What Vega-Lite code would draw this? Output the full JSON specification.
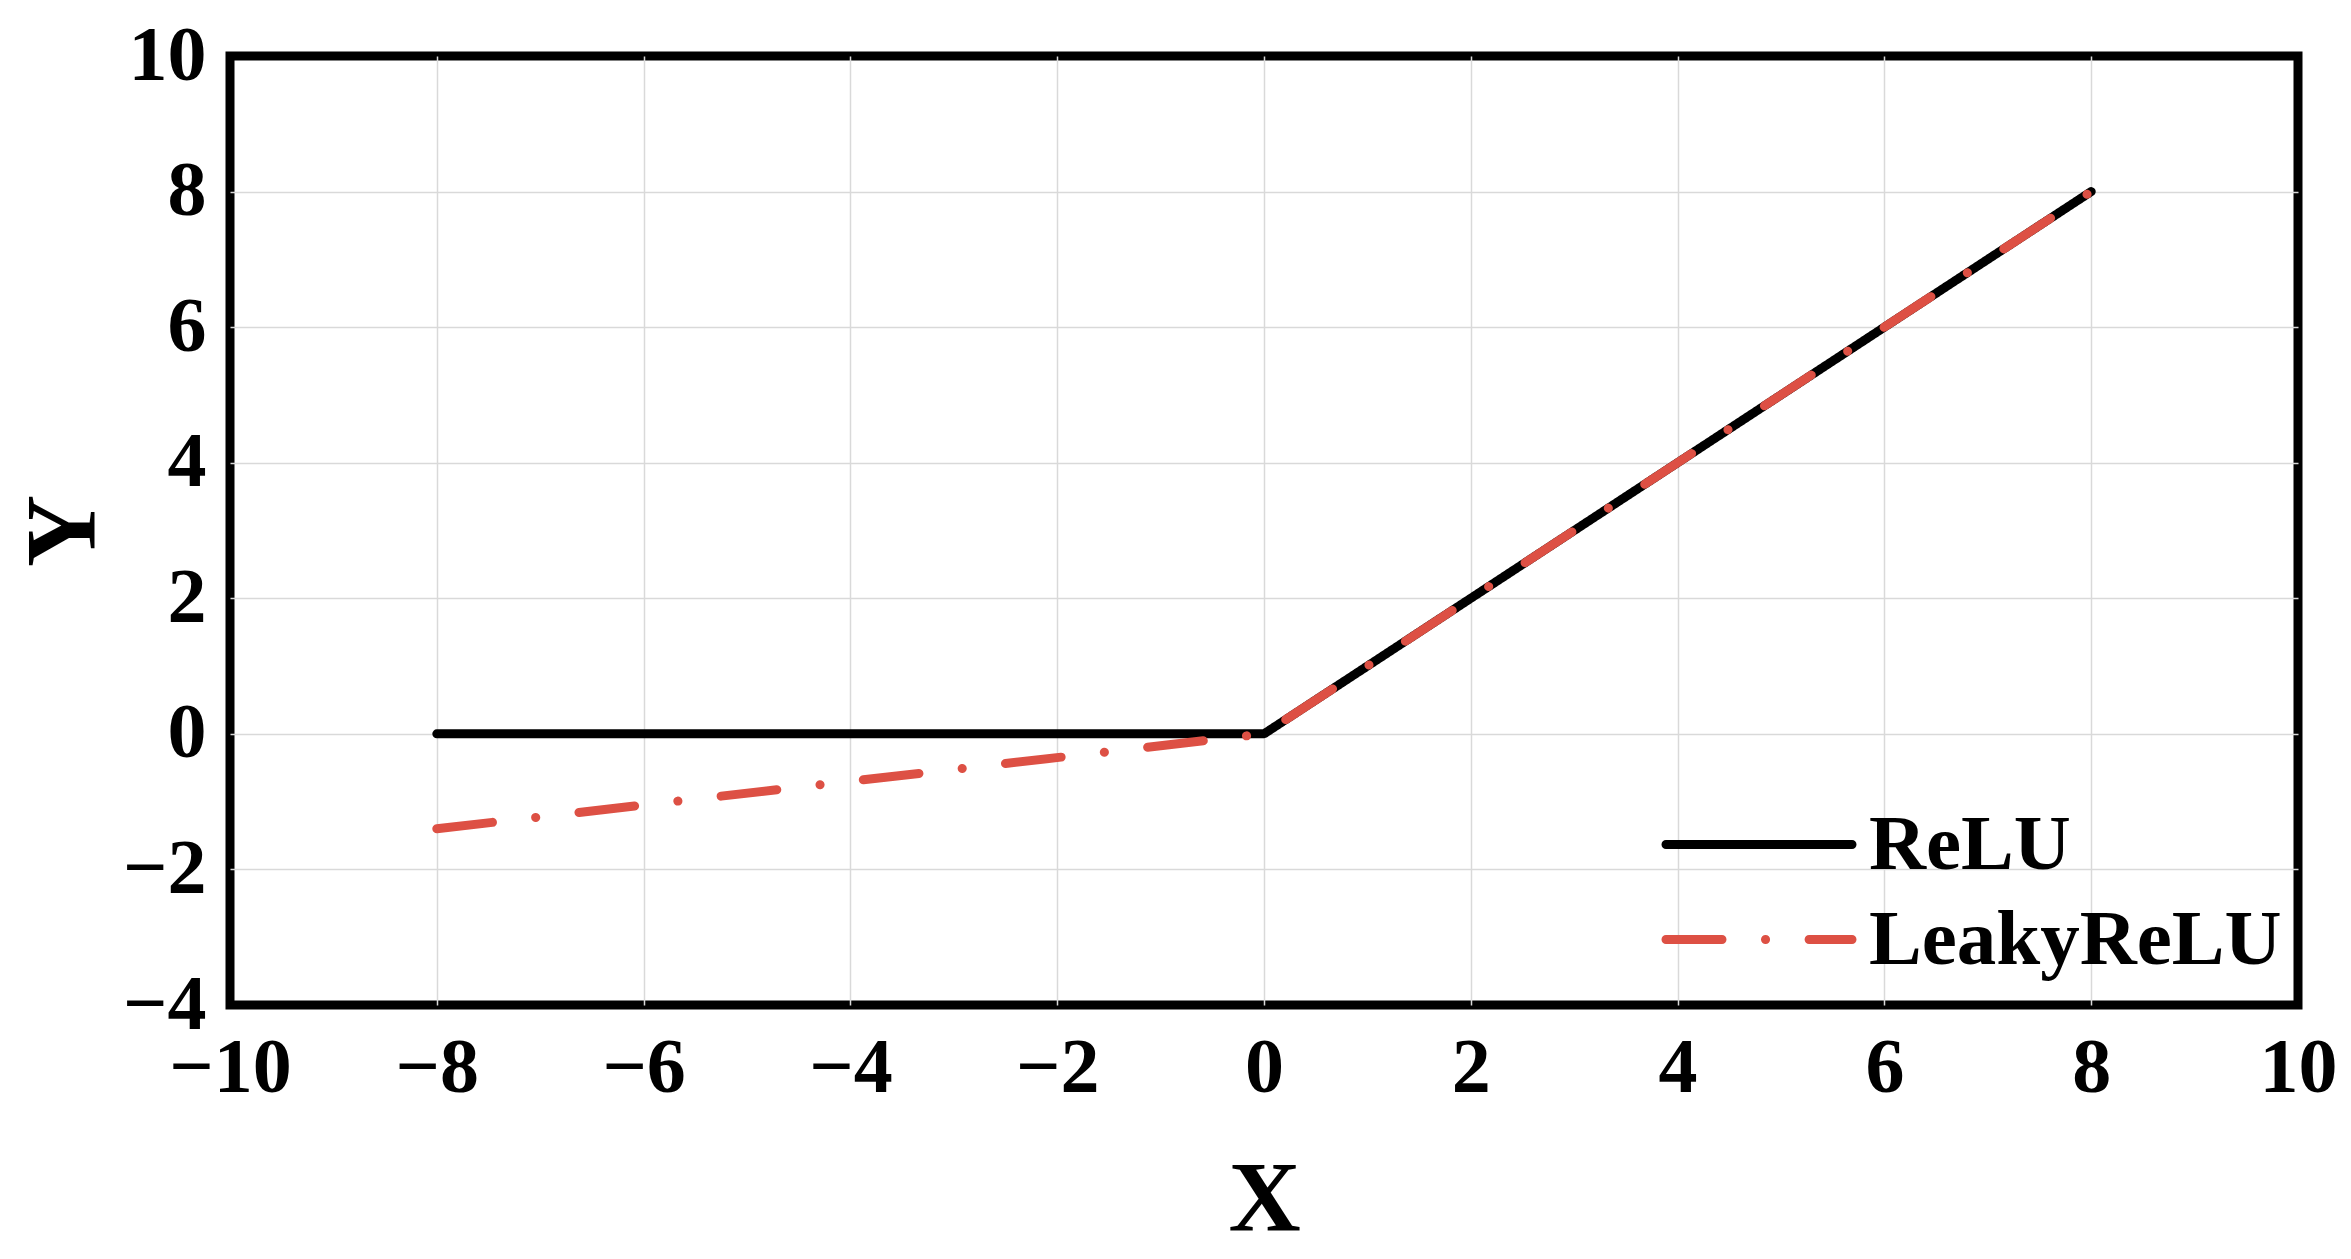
{
  "$schema": "https://vega.github.io/schema/vega-lite/v6.json",
  "width": 2068,
  "height": 949,
  "autosize": {"type": "none"},
  "padding": {"left": 230, "top": 56, "right": 53, "bottom": 254},
  "background": "white",
  "config": {
    "font": "Liberation Serif",
    "view": {"stroke": "black", "strokeWidth": 9},
    "axis": {
      "grid": true,
      "gridColor": "#d9d9d9",
      "gridWidth": 1.5,
      "domain": false,
      "ticks": false,
      "labelFont": "Liberation Serif",
      "labelFontSize": 78,
      "labelFontWeight": "bold",
      "labelColor": "black",
      "labelFlush": false,
      "labelOverlap": false,
      "titleFont": "Liberation Serif",
      "titleFontSize": 100,
      "titleFontWeight": "bold",
      "titleColor": "black"
    }
  },
  "encoding": {
    "x": {
      "field": "x",
      "type": "quantitative",
      "scale": {"domain": [-10, 10], "nice": false},
      "axis": {
        "title": "X",
        "values": [-10, -8, -6, -4, -2, 0, 2, 4, 6, 8, 10],
        "labelPadding": 24,
        "titlePadding": 43,
        "gridOpacity": {"condition": {"test": "abs(datum.value) == 10", "value": 0}, "value": 1}
      }
    },
    "y": {
      "field": "y",
      "type": "quantitative",
      "scale": {"domain": [-4, 10], "nice": false},
      "axis": {
        "title": "Y",
        "values": [-4, -2, 0, 2, 4, 6, 8, 10],
        "labelPadding": 24,
        "titlePadding": 8,
        "gridOpacity": {"condition": {"test": "datum.value == -4 || datum.value == 10", "value": 0}, "value": 1}
      }
    },
    "color": {
      "field": "series",
      "type": "nominal",
      "scale": {"domain": ["ReLU", "LeakyReLU"], "range": ["black", "#dd5044"]},
      "legend": {
        "title": null,
        "orient": "none",
        "legendX": 1431,
        "legendY": 741,
        "padding": 0,
        "symbolType": "stroke",
        "symbolSize": 34600,
        "symbolStrokeWidth": 9,
        "clipHeight": 95,
        "rowPadding": 0,
        "labelFont": "Liberation Serif",
        "labelFontSize": 79,
        "labelFontWeight": "bold",
        "labelColor": "black",
        "labelOffset": 12,
        "labelLimit": 1000,
        "encode": {"symbols": {"update": {"strokeCap": {"value": "round"}}}}
      }
    },
    "strokeDash": {
      "field": "series",
      "type": "nominal",
      "scale": {"domain": ["ReLU", "LeakyReLU"], "range": [[1, 0], [56, 43.5, 0.1, 43.5]]},
      "legend": null
    }
  },
  "layer": [
    {
      "data": {"values": [
        {"series": "ReLU", "x": -8, "y": 0},
        {"series": "ReLU", "x": -4, "y": 0},
        {"series": "ReLU", "x": 0, "y": 0},
        {"series": "ReLU", "x": 4, "y": 4},
        {"series": "ReLU", "x": 8, "y": 8}
      ]},
      "mark": {"type": "line", "strokeWidth": 9, "strokeCap": "round", "strokeJoin": "round"}
    },
    {
      "data": {"values": [
        {"series": "LeakyReLU", "x": -8, "y": -1.4},
        {"series": "LeakyReLU", "x": -4, "y": -0.7},
        {"series": "LeakyReLU", "x": 0, "y": 0},
        {"series": "LeakyReLU", "x": 4, "y": 4},
        {"series": "LeakyReLU", "x": 8, "y": 8}
      ]},
      "mark": {"type": "line", "strokeWidth": 9, "strokeCap": "round", "strokeJoin": "round"}
    }
  ]
}
